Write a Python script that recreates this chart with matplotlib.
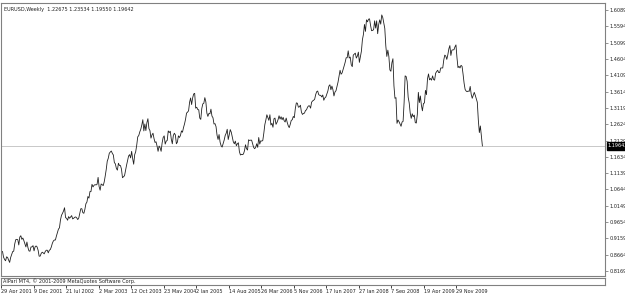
import matplotlib
matplotlib.use("Agg")
import matplotlib.pyplot as plt
import matplotlib.font_manager as fm

# weekly closes EURUSD, week of 29 Apr 2001 .. week of 30 May 2010
c2001 = [0.8950, 0.8770, 0.8760, 0.8590,
         0.8520, 0.8480, 0.8600, 0.8580, 0.8500,
         0.8430, 0.8580, 0.8670, 0.8760,
         0.8770, 0.8990, 0.9120, 0.9130, 0.9120,
         0.8960, 0.9200, 0.9240, 0.9130,
         0.9170, 0.9090, 0.9000, 0.8900,
         0.9050, 0.8880, 0.8780, 0.8770, 0.8900,
         0.8900, 0.8940, 0.8780, 0.8900]
c2002 = [0.8930, 0.8900, 0.8800, 0.8620,
         0.8620, 0.8700, 0.8740, 0.8720,
         0.8690, 0.8760, 0.8800, 0.8800, 0.8720,
         0.8800, 0.8820, 0.8900, 0.9010,
         0.9080, 0.9110, 0.9110, 0.9230, 0.9330,
         0.9440, 0.9480, 0.9720, 0.9860,
         0.9920, 0.9990, 1.0090, 0.9790,
         0.9770, 0.9710, 0.9820, 0.9770, 0.9810,
         0.9850, 0.9750, 0.9770, 0.9800,
         0.9810, 0.9780, 0.9730, 0.9780,
         0.9920, 1.0060, 1.0060, 0.9940, 0.9920,
         1.0040, 1.0210, 1.0260, 1.0430]
c2003 = [1.0380, 1.0580, 1.0580, 1.0800, 1.0720,
         1.0770, 1.0790, 1.0780, 1.0800,
         1.1010, 1.0730, 1.0620, 1.0810,
         1.0790, 1.0760, 1.0870, 1.1050,
         1.1250, 1.1500, 1.1590, 1.1740, 1.1780,
         1.1810, 1.1740, 1.1690, 1.1460,
         1.1420, 1.1280, 1.1230, 1.1440,
         1.1370, 1.1370, 1.1260, 1.1000, 1.1030,
         1.1060, 1.1220, 1.1380, 1.1520,
         1.1660, 1.1700, 1.1600, 1.1800, 1.1580,
         1.1410, 1.1700, 1.1790, 1.1990,
         1.2240, 1.2280, 1.2390, 1.2470]
c2004 = [1.2600, 1.2760, 1.2420, 1.2630, 1.2430,
         1.2670, 1.2790, 1.2490, 1.2430,
         1.2200, 1.2300, 1.2350, 1.2190,
         1.2070, 1.2090, 1.1960, 1.1800, 1.1960,
         1.1910, 1.1800, 1.2060, 1.2220,
         1.2270, 1.2020, 1.2110, 1.2130,
         1.2420, 1.2370, 1.2410, 1.2170, 1.2030,
         1.2280, 1.2350, 1.2300, 1.2030,
         1.2080, 1.2270, 1.2220, 1.2280,
         1.2420, 1.2380, 1.2520, 1.2630, 1.2770,
         1.2960, 1.2990, 1.3030, 1.3290,
         1.3420, 1.3220, 1.3420, 1.3540, 1.3560]
c2005 = [1.3110, 1.3140, 1.3070, 1.3060,
         1.2810, 1.2770, 1.3100, 1.3240,
         1.3260, 1.3430, 1.3300, 1.2960,
         1.2860, 1.2950, 1.2940, 1.3080, 1.2870,
         1.2820, 1.2630, 1.2640, 1.2550,
         1.2290, 1.2160, 1.2310, 1.2080,
         1.1970, 1.1930, 1.2040, 1.2140, 1.2280,
         1.2350, 1.2470, 1.2160, 1.2300,
         1.2460, 1.2380, 1.2240, 1.2090, 1.2030,
         1.2110, 1.1970, 1.2030, 1.2060,
         1.1790, 1.1690, 1.1710, 1.1700,
         1.1720, 1.1820, 1.2000, 1.1880, 1.1840]
c2006 = [1.2150, 1.2130, 1.2140, 1.2140,
         1.2030, 1.1920, 1.1880, 1.1920,
         1.2030, 1.1920, 1.2220, 1.2020, 1.2120,
         1.2110, 1.2130, 1.2350, 1.2610,
         1.2750, 1.2910, 1.2820, 1.2740,
         1.2910, 1.2600, 1.2650, 1.2530, 1.2790,
         1.2810, 1.2620, 1.2680, 1.2760,
         1.2880, 1.2780, 1.2850, 1.2760,
         1.2830, 1.2730, 1.2690, 1.2810, 1.2680,
         1.2580, 1.2520, 1.2620, 1.2740,
         1.2760, 1.2860, 1.2820, 1.3100,
         1.3270, 1.3260, 1.3140, 1.3150, 1.3200]
c2007 = [1.2990, 1.2920, 1.2950, 1.2960,
         1.3040, 1.3060, 1.3140, 1.3180,
         1.3180, 1.3110, 1.3290, 1.3330, 1.3350,
         1.3380, 1.3520, 1.3610, 1.3630,
         1.3520, 1.3500, 1.3500, 1.3450,
         1.3510, 1.3350, 1.3420, 1.3450, 1.3540,
         1.3630, 1.3780, 1.3820, 1.3670,
         1.3780, 1.3670, 1.3480, 1.3600, 1.3640,
         1.3770, 1.3900, 1.4090, 1.4260,
         1.4140, 1.4180, 1.4280, 1.4390,
         1.4500, 1.4640, 1.4640, 1.4850, 1.4630,
         1.4660, 1.4430, 1.4370, 1.4720]
c2008 = [1.4750, 1.4780, 1.4630, 1.4690,
         1.4810, 1.4500, 1.4670, 1.4840, 1.5190,
         1.5350, 1.5650, 1.5440, 1.5790,
         1.5730, 1.5810, 1.5820, 1.5620,
         1.5460, 1.5470, 1.5490, 1.5760, 1.5540,
         1.5760, 1.5370, 1.5650, 1.5790,
         1.5660, 1.5940, 1.5860, 1.5700,
         1.5530, 1.5000, 1.4680, 1.4870, 1.4680,
         1.4270, 1.4230, 1.4490, 1.4610,
         1.3790, 1.3410, 1.3430, 1.2650, 1.2750,
         1.2700, 1.2630, 1.2560, 1.2690,
         1.2710, 1.3280, 1.4090, 1.4070]
c2009 = [1.3920, 1.3440, 1.3270, 1.2960, 1.2800,
         1.2940, 1.2850, 1.2900, 1.2670,
         1.2660, 1.2920, 1.3590, 1.3280,
         1.3480, 1.3200, 1.3030, 1.3250,
         1.3270, 1.3650, 1.3520, 1.4000, 1.4150,
         1.3970, 1.4010, 1.3960, 1.4090,
         1.3980, 1.3960, 1.4170, 1.4220, 1.4260,
         1.4190, 1.4190, 1.4330, 1.4330,
         1.4330, 1.4570, 1.4720, 1.4690,
         1.4590, 1.4730, 1.4910, 1.5010, 1.4710,
         1.4870, 1.4880, 1.4880, 1.4970,
         1.5030, 1.4640, 1.4340, 1.4380]
c2010 = [1.4330, 1.4410, 1.4380, 1.4140, 1.3870,
         1.3680, 1.3630, 1.3610, 1.3630,
         1.3620, 1.3770, 1.3530, 1.3410,
         1.3500, 1.3590, 1.3500, 1.3390, 1.3290,
         1.2750, 1.2370, 1.2570, 1.2270,
         1.19642]

closes = c2001 + c2002 + c2003 + c2004 + c2005 + c2006 + c2007 + c2008 + c2009 + c2010

date_labels = ["29 Apr 2001", "9 Dec 2001", "21 Jul 2002", "2 Mar 2003", "12 Oct 2003",
               "23 May 2004", "2 Jan 2005", "14 Aug 2005", "26 Mar 2006", "5 Nov 2006",
               "17 Jun 2007", "27 Jan 2008", "7 Sep 2008", "19 Apr 2009", "29 Nov 2009"]
price_ticks = [1.6089, 1.5594, 1.5099, 1.4604, 1.4109, 1.3614, 1.3119, 1.2624, 1.2129,
               1.1634, 1.1139, 1.0644, 1.0149, 0.9654, 0.9159, 0.8664, 0.8169]
last_price = 1.19642
header = "EURUSD,Weekly  1.22675 1.23534 1.19550 1.19642"
footer = "AlPari MT4, \u00a9 2001-2009 MetaQuotes Software Corp."

# narrow font if there is one, like the tiny terminal font
font_file = None
for want in ["LiberationSansNarrow-Regular", "DejaVuSansCondensed.ttf"]:
    for f in fm.fontManager.ttflist:
        if want in f.fname:
            font_file = f.fname
            break
    if font_file:
        break
fs = 4.0
if font_file:
    fp = fm.FontProperties(fname=font_file, size=fs)
else:
    fp = fm.FontProperties(family="DejaVu Sans", size=3.4)

W, H = 625, 293
fig = plt.figure(figsize=(W / 100, H / 100), dpi=100)
fig.patch.set_facecolor("white")

def box(l, t, r, b):
    return [l / W, 1 - b / H, (r - l) / W, (b - t) / H]

grey = "#808080"
txt = "#222222"
xlim = (0.5, 594.6)

ax = fig.add_axes(box(1, 3, 605, 276))
ax.plot(range(len(closes)), closes, color="#202020", lw=0.6)
ax.axhline(last_price, color="#c8c8c8", lw=0.7, zorder=0)
ax.set_xlim(*xlim)
ax.set_ylim(0.8018, 1.6301)
ax.yaxis.tick_right()
ax.set_yticks(price_ticks)
ax.set_yticklabels([f"{p:.5f}" for p in price_ticks], color=txt)
for lbl in ax.get_yticklabels():
    lbl.set_fontproperties(fp)
ax.tick_params(axis="y", length=2, width=0.6, color=grey, pad=1)
ax.tick_params(axis="x", bottom=False, labelbottom=False)
for s in ax.spines.values():
    s.set_color(grey)
    s.set_linewidth(0.8)
ax.text(3 / 604, 0.985, header, transform=ax.transAxes, fontproperties=fp,
        va="top", ha="left", color=txt)
ax.annotate(f"{last_price:.5f}", xy=(1, last_price), xycoords=("axes fraction", "data"),
            xytext=(2, 0), textcoords="offset points", fontproperties=fp, color="white",
            va="center", ha="left",
            bbox=dict(boxstyle="square,pad=0.2", fc="black", ec="black"))

sub = fig.add_axes(box(1, 278, 605, 285))
sub.set_xlim(*xlim)
sub.set_yticks([])
for s in sub.spines.values():
    s.set_color(grey)
    s.set_linewidth(0.8)
sub.text(2 / 604, 0.5, footer, transform=sub.transAxes, fontproperties=fp,
         va="center", ha="left", color=txt)
sub.set_xticks(range(0, 449, 32))
sub.set_xticklabels(date_labels, color=txt, ha="left")
for lbl in sub.get_xticklabels():
    lbl.set_fontproperties(fp)
sub.tick_params(axis="x", length=2.5, width=0.6, color=txt, pad=0.5)

fig.savefig("out.png", dpi=100, facecolor="white")
